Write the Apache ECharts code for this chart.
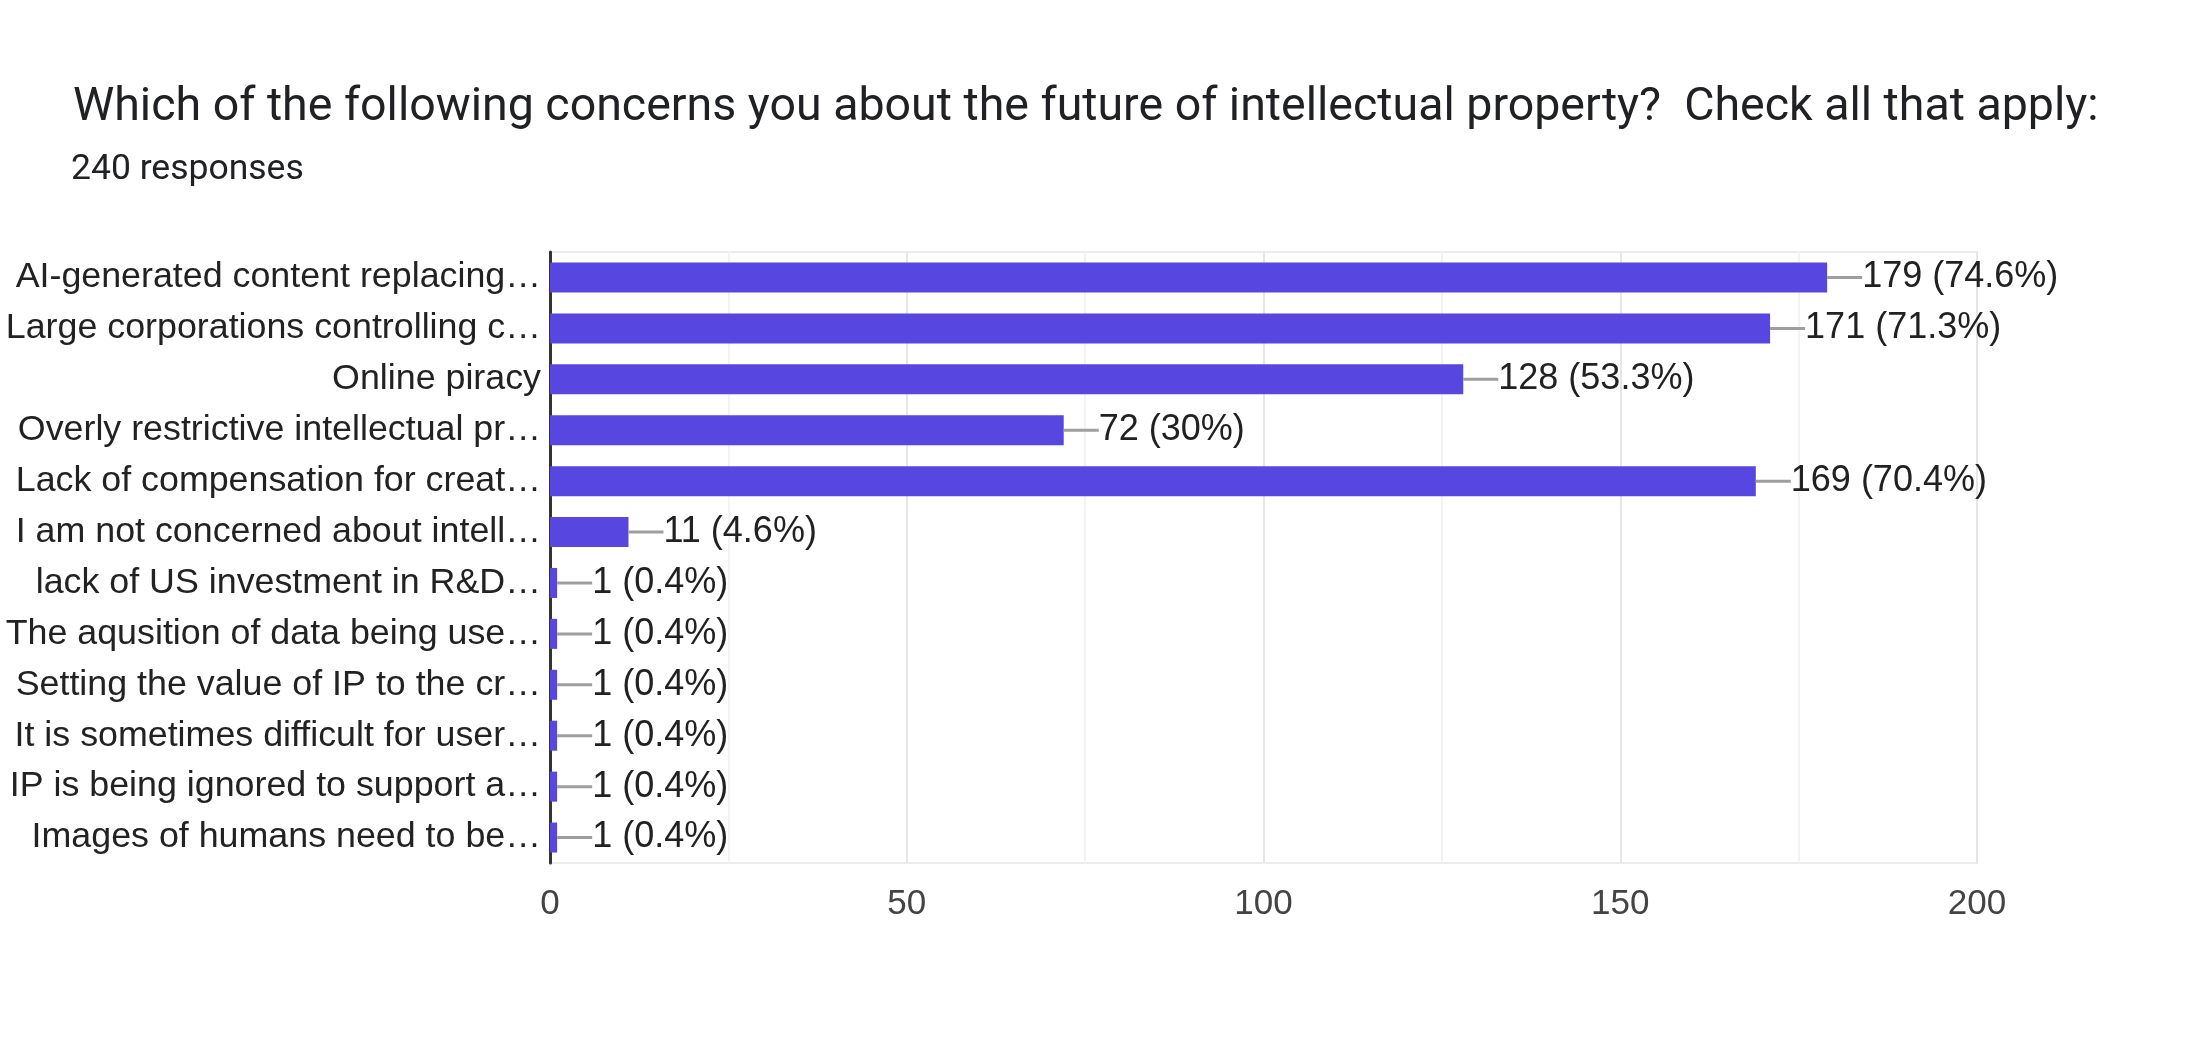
<!DOCTYPE html>
<html>
<head>
    <meta charset="utf-8">
    <title>intellectual property</title>
    <script src="https://cdn.jsdelivr.net/npm/echarts@6/dist/echarts.min.js"></script>
</head>
<body style="margin:0;background-color:#fff;">
    <div id="main" style="width:2196px;height:1044px;"></div>
    <script type="text/javascript">
        // 分类（已截断，与原图一致）
        var categories = [
            'AI-generated content replacing…',
            'Large corporations controlling c…',
            'Online piracy',
            'Overly restrictive intellectual pr…',
            'Lack of compensation for creat…',
            'I am not concerned about intell…',
            'lack of US investment in R&D…',
            'The aqusition of data being use…',
            'Setting the value of IP to the cr…',
            'It is sometimes difficult for user…',
            'IP is being ignored to support a…',
            'Images of humans need to be…'
        ];

        // 回答人数
        var counts = [179, 171, 128, 72, 169, 11, 1, 1, 1, 1, 1, 1];

        // 百分比
        var percents = ['74.6%', '71.3%', '53.3%', '30%', '70.4%', '4.6%', '0.4%', '0.4%', '0.4%', '0.4%', '0.4%', '0.4%'];

        // x 轴刻度
        var xTicks = [0, 50, 100, 150, 200];

        var myChart = echarts.init(document.getElementById('main'));

        var option = {
            animation: false,
            title: [
                {
                    text: 'Which of the following concerns you about the future of intellectual property?  Check all that apply:',
                    left: 68,
                    top: 80,
                    textStyle: { fontFamily: 'Roboto', fontSize: 46.5, fontWeight: 'normal', color: '#202124' }
                },
                {
                    text: '240 responses',
                    left: 66,
                    top: 147,
                    textStyle: { fontFamily: 'Roboto', fontSize: 35.5, fontWeight: 'normal', color: '#202124' }
                }
            ],
            grid: {
                left: 550,
                right: 219,
                top: 252,
                bottom: 181,
                show: true,
                borderColor: '#ececec',
                borderWidth: 2
            },
            xAxis: {
                type: 'value',
                min: xTicks[0],
                max: xTicks[xTicks.length - 1],
                interval: 50,
                axisLine: { show: false },
                axisTick: { show: false },
                axisLabel: { fontFamily: 'Liberation Sans', fontSize: 35, color: '#444', margin: 24 },
                splitLine: { lineStyle: { color: '#e6e6e6', width: 2 } },
                minorTick: { show: false, splitNumber: 2 },
                minorSplitLine: { show: true, lineStyle: { color: '#f3f3f3', width: 2 } }
            },
            yAxis: {
                type: 'category',
                inverse: true,
                data: categories,
                axisTick: { show: false },
                axisLine: { show: true, lineStyle: { color: '#333', width: 3 } },
                axisLabel: { fontFamily: 'Liberation Sans', fontSize: 35.8, color: '#222', margin: 9 }
            },
            series: [
                {
                    type: 'bar',
                    data: counts,
                    barWidth: 30,
                    itemStyle: { color: '#5746e0' },
                    label: {
                        show: true,
                        position: 'right',
                        distance: 0,
                        formatter: function (p) {
                            return '{l|}{v|' + p.value + ' (' + percents[p.dataIndex] + ')}';
                        },
                        rich: {
                            l: { width: 35, height: 3, backgroundColor: '#9e9e9e' },
                            v: { fontFamily: 'Liberation Sans', fontSize: 36, color: '#212121', padding: [0, 0, 0, 0] }
                        }
                    }
                }
            ]
        };

        myChart.setOption(option);
    </script>
</body>
</html>
